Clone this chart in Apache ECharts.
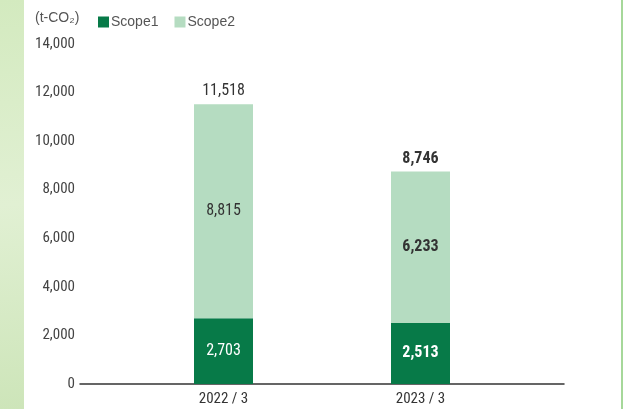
<!DOCTYPE html>
<html>
<head>
<meta charset="utf-8">
<script src="https://cdn.jsdelivr.net/npm/echarts@6/dist/echarts.min.js"></script>
<style>
  html, body { margin: 0; padding: 0; background: #fff; }
  #chart { width: 623px; height: 409px; }
</style>
</head>
<body>
<div id="chart"></div>
<script>
const categories = ["2022 / 3", "2023 / 3"]
const scope1 = [2703, 2513]
const scope2 = [8815, 6233]
const boldYear = [false, true]
const yTicks = [0, 2000, 4000, 6000, 8000, 10000, 12000, 14000]

const totals = scope1.map((v, i) => v + scope2[i])
const font = "'Liberation Sans Narrow', 'Roboto Condensed', 'Liberation Sans', sans-serif"
const fmt = (v) => v.toLocaleString("en-US")

const chart = echarts.init(document.getElementById("chart"))

const withLabel = (values, color) =>
  values.map((v, i) => ({
    value: v,
    label: { color, fontWeight: boldYear[i] ? "bold" : "normal" },
  }))

chart.setOption({
  animation: false,
  textStyle: { fontFamily: font },
  graphic: [
    {
      type: "rect",
      shape: { x: 0, y: 0, width: 24, height: 409 },
      style: {
        fill: new echarts.graphic.LinearGradient(0, 0, 1, 1, [
          { offset: 0, color: "#d3eabf" },
          { offset: 0.5, color: "#e1f0d3" },
          { offset: 1, color: "#cde5b9" },
        ]),
      },
      silent: true,
    },
    {
      type: "rect",
      shape: { x: 621, y: 0, width: 2, height: 409 },
      style: { fill: "#a6d89a" },
      silent: true,
    },
    {
      type: "text",
      left: 35,
      top: 11,
      style: {
        text: "(t-CO₂)",
        fill: "#555",
        fontSize: 14,
        fontFamily: "'Liberation Sans', sans-serif",
      },
    },
  ],
  legend: {
    left: 93,
    top: 10,
    itemWidth: 11,
    itemHeight: 11,
    itemGap: 16,
    icon: "rect",
    data: ["Scope1", "Scope2"],
    textStyle: { color: "#555", fontSize: 14, fontFamily: "'Liberation Sans', sans-serif", padding: [0, 0, 0, -3] },
  },
  grid: [
    { left: 80, right: 59, top: 44, bottom: 25 },
    { left: 125, right: 104, top: 44, bottom: 25 },
  ],
  xAxis: [
    {
      gridIndex: 0,
      type: "value",
      axisLine: { show: true, lineStyle: { color: "#333", width: 1.5 } },
      axisTick: { show: false },
      axisLabel: { show: false },
      splitLine: { show: false },
      position: "bottom",
    },
    {
      gridIndex: 1,
      type: "category",
      data: categories,
      axisLine: { show: false },
      axisTick: { show: false },
      axisLabel: { color: "#333", fontSize: 15, margin: 8 },
    },
  ],
  yAxis: [
    {
      gridIndex: 0,
      type: "value",
      min: yTicks[0],
      max: yTicks[yTicks.length - 1],
      interval: 2000,
      axisLine: { show: false },
      axisTick: { show: false },
      splitLine: { show: false },
      axisLabel: { color: "#444", fontSize: 15, margin: 5, formatter: (v) => fmt(v) },
    },
    {
      gridIndex: 1,
      type: "value",
      min: yTicks[0],
      max: yTicks[yTicks.length - 1],
      interval: 2000,
      show: false,
    },
  ],
  series: [
    {
      name: "Scope1",
      type: "bar",
      stack: "total",
      xAxisIndex: 1,
      yAxisIndex: 1,
      barWidth: 59,
      itemStyle: { color: "#077a48" },
      label: { show: true, position: "inside", fontSize: 16, formatter: (p) => fmt(p.value) },
      data: withLabel(scope1, "#fff"),
    },
    {
      name: "Scope2",
      type: "bar",
      stack: "total",
      xAxisIndex: 1,
      yAxisIndex: 1,
      barWidth: 59,
      itemStyle: { color: "#b5dcc1" },
      label: { show: true, position: "inside", fontSize: 16, formatter: (p) => fmt(p.value) },
      data: withLabel(scope2, "#333"),
    },
    {
      name: "Total",
      type: "bar",
      stack: "total",
      xAxisIndex: 1,
      yAxisIndex: 1,
      barWidth: 59,
      itemStyle: { color: "transparent" },
      label: {
        show: true,
        position: "top",
        distance: 5,
        fontSize: 16,
        formatter: (p) => fmt(totals[p.dataIndex]),
      },
      data: withLabel(totals.map(() => 0), "#333"),
    },
  ],
})
</script>
</body>
</html>
